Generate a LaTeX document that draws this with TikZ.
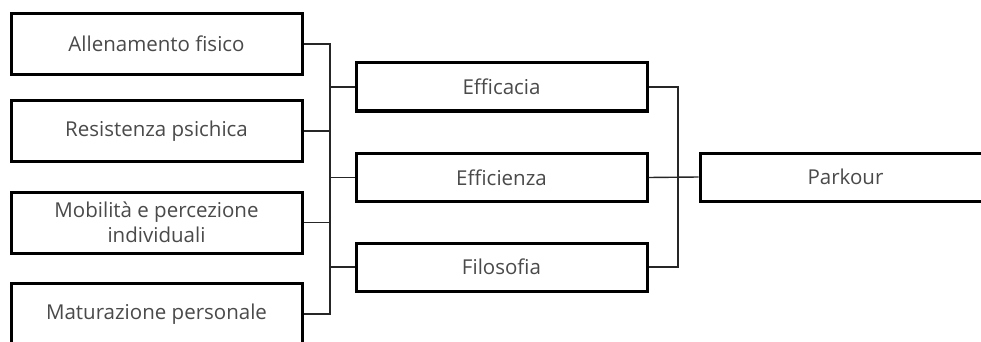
\documentclass[tikz,border=0pt]{standalone}
\usepackage{fontspec}
\setmainfont{Open Sans}
\definecolor{txt}{HTML}{4A4A4A}
\tikzset{
  box/.style={draw=black, line width=3pt, fill=white, minimum width=291pt, inner sep=0pt,
    text=txt, font=\fontsize{20.5}{25}\selectfont, align=center},
  lbox/.style={box, minimum height=61pt},
  mbox/.style={box, minimum height=48pt},
  conn/.style={draw=black!85, line width=1.4pt}
}
\begin{document}
\begin{tikzpicture}[x=1pt,y=-1pt]
\clip (0,0) rectangle (981,342);
\fill[white] (0,0) rectangle (981,342);
\node[lbox] (b1) at (156.5,44) {Allenamento fisico};
\node[lbox] (b2) at (156.5,131) {Resistenza psichica};
\node[lbox] (b3) at (156.5,222.5) {Mobilità e percezione\\individuali};
\node[lbox] (b4) at (156.5,314) {Maturazione personale};
\node[mbox] (m1) at (501.5,87) {Efficacia};
\node[mbox] (m2) at (501.5,177.5) {Efficienza};
\node[mbox] (m3) at (501.5,267) {Filosofia};
\node[mbox] (p) at (845.5,177) {Parkour};
\coordinate (busL) at (330,0);
\coordinate (busR) at (678,0);
\draw[conn] (b1.east) -- (b1.east -| busL) -- (b4.east -| busL) -- (b4.east);
\draw[conn] (b2.east) -- (b2.east -| busL);
\draw[conn] (b3.east) -- (b3.east -| busL);
\draw[conn] (m1.west) -- (m1.west -| busL);
\draw[conn] (m2.west) -- (m2.west -| busL);
\draw[conn] (m3.west) -- (m3.west -| busL);
\draw[conn] (m1.east) -- (m1.east -| busR) -- (m3.east -| busR) -- (m3.east);
\draw[conn] (m2.east) -- (p.west);
\end{tikzpicture}
\end{document}
